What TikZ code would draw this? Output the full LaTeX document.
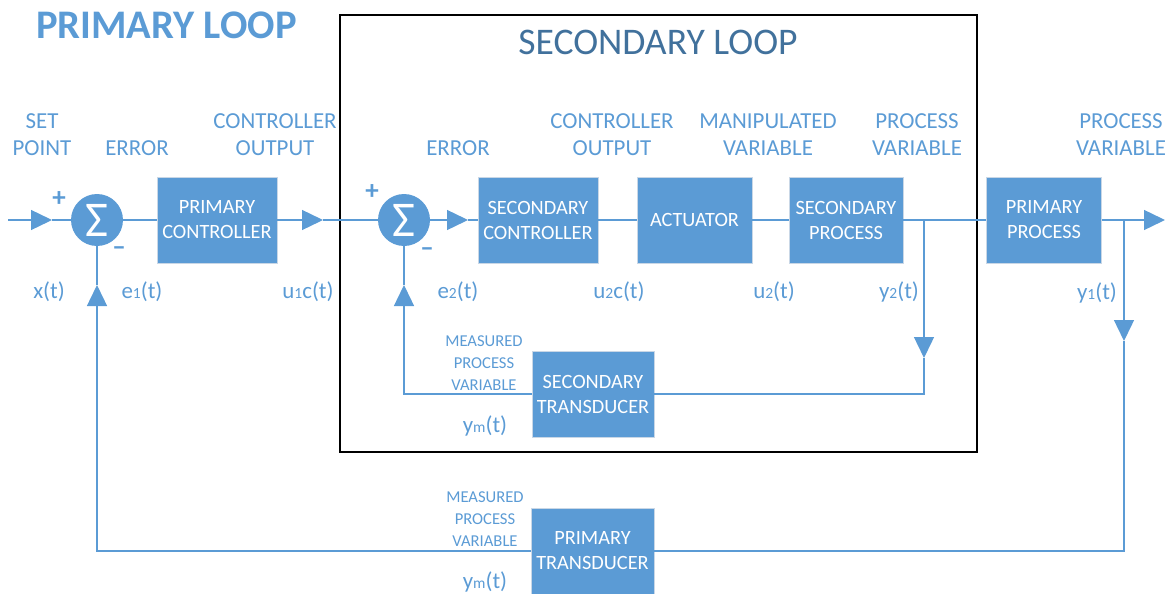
\documentclass[tikz,border=0pt]{standalone}
\usepackage{fontspec}
\setmainfont{Carlito}
\usetikzlibrary{arrows.meta}
\definecolor{loopblue}{HTML}{5B9BD5}
\definecolor{titleblue}{HTML}{41719C}
\definecolor{edgegray}{HTML}{C9D7E6}
% smaller index digits/letters, kept on the baseline
\newcommand{\lo}[1]{{\fontsize{15.5}{15.5}\selectfont #1}}

\begin{document}
\begin{tikzpicture}[x=1pt, y=-1pt,
  block/.style={fill=loopblue, draw=edgegray, line width=0.8pt, text=white, align=center,
    inner sep=0pt, minimum height=86pt, font=\fontsize{20.3}{25}\selectfont},
  sumpt/.style={circle, fill=loopblue, inner sep=0pt, minimum size=52pt, text=white,
    font=\fontsize{50}{50}\selectfont},
  sig/.style={draw=loopblue, line width=1.4pt},
  tip/.style={-{Triangle[length=21pt, width=20pt]}},
  lbl/.style={text=loopblue, align=center, inner sep=0pt, font=\fontsize{22.9}{27}\selectfont},
  sml/.style={text=loopblue, align=center, inner sep=0pt, font=\fontsize{16.6}{22}\selectfont},
  sgn/.style={text=loopblue, inner sep=0pt, font=\bfseries\fontsize{27}{27}\selectfont}]

\useasboundingbox (0,0) rectangle (1173,594);

% Secondary loop frame and titles
\draw[line width=2pt] (340,15) rectangle (977,452);
\node[text=loopblue, font=\bfseries\fontsize{40.6}{40.6}\selectfont, anchor=west, inner sep=0pt]
  (ptitle) at (36,25) {PRIMARY LOOP};
\node[text=titleblue, font=\fontsize{37.6}{37.6}\selectfont, inner sep=0pt]
  (stitle) at (658,42) {SECONDARY LOOP};

% Summing points
\node[sumpt] (sum1) at (97,220) {Σ};
\node[sumpt] (sum2) at (404,220) {Σ};
\node[sgn] (p1) at (59,199) {+};
\node[sgn] (m1) at (119,251) {–};
\node[sgn] (p2) at (372,192) {+};
\node[sgn] (m2) at (427,252) {–};

% Blocks
\node[block, minimum width=120pt] (pc) at (217,220) {PRIMARY\\CONTROLLER};
\node[block, minimum width=120pt] (sc) at (538,220) {SECONDARY\\CONTROLLER};
\node[block, minimum width=115pt] (act) at (694.5,220) {ACTUATOR};
\node[block, minimum width=114pt] (sp) at (846,220) {SECONDARY\\PROCESS};
\node[block, minimum width=115pt] (pp) at (1044,220) {PRIMARY\\PROCESS};
\node[block, minimum width=122pt] (st) at (593,394) {SECONDARY\\TRANSDUCER};
\node[block, minimum width=123pt] (pt) at (592.5,551) {PRIMARY\\TRANSDUCER};

% Forward path
\coordinate (xin) at (8,220);
\coordinate (a1) at (52,220);
\coordinate (a2) at (323,220);
\coordinate (a3) at (468,220);
\coordinate (a4) at (1165,220);
\draw[sig, tip] (xin) -- (a1);
\draw[sig] (a1) -- (sum1);
\draw[sig] (sum1) -- (pc);
\draw[sig, tip] (pc) -- (a2);
\draw[sig] (a2) -- (sum2);
\draw[sig, tip] (sum2) -- (a3);
\draw[sig] (a3) -- (sc);
\draw[sig] (sc) -- (act);
\draw[sig] (act) -- (sp);
\draw[sig] (sp) -- (pp);
\draw[sig, tip] (pp) -- (a4);

% Secondary feedback
\coordinate (b2) at (924,220);
\coordinate (a5) at (924,358);
\coordinate (a6) at (404,285);
\draw[sig, tip] (b2) -- (a5);
\draw[sig] (a5) |- (st);
\draw[sig, tip] (st) -| (a6);
\draw[sig] (a6) -- (sum2);

% Primary feedback
\coordinate (b1) at (1124,220);
\coordinate (a7) at (1124,341);
\coordinate (a8) at (97,285);
\draw[sig, tip] (b1) -- (a7);
\draw[sig] (a7) |- (pt);
\draw[sig, tip] (pt) -| (a8);
\draw[sig] (a8) -- (sum1);

% Signal names above the path
\node[lbl] (tsp) at (42,134.5) {SET\\POINT};
\node[lbl] (te1) at (137,148) {ERROR};
\node[lbl] (tco1) at (275,134.5) {CONTROLLER\\OUTPUT};
\node[lbl] (te2) at (458,148) {ERROR};
\node[lbl] (tco2) at (612,134.5) {CONTROLLER\\OUTPUT};
\node[lbl] (tmv) at (768,134.5) {MANIPULATED\\VARIABLE};
\node[lbl] (tpv2) at (917,134.5) {PROCESS\\VARIABLE};
\node[lbl] (tpv1) at (1121,134.5) {PROCESS\\VARIABLE};

% Signal symbols below the path
\node[lbl, anchor=base] (sx) at (49,298) {x(t)};
\node[lbl, anchor=base] (se1) at (142,298) {e\lo{1}(t)};
\node[lbl, anchor=base] (su1) at (308,298) {u\lo{1}c(t)};
\node[lbl, anchor=base] (se2) at (458,298) {e\lo{2}(t)};
\node[lbl, anchor=base] (su2c) at (619,298) {u\lo{2}c(t)};
\node[lbl, anchor=base] (su2) at (774,298) {u\lo{2}(t)};
\node[lbl, anchor=base] (sy2) at (899,298) {y\lo{2}(t)};
\node[lbl, anchor=base] (sy1) at (1097,299) {y\lo{1}(t)};

% Measured variables
\node[sml] (ms) at (484,363.5) {MEASURED\\PROCESS\\VARIABLE};
\node[lbl, anchor=base] (sym2) at (485,432) {y\lo{m}(t)};
\node[sml] (mp) at (485,519) {MEASURED\\PROCESS\\VARIABLE};
\node[lbl, anchor=base] (sym1) at (485,588) {y\lo{m}(t)};

\end{tikzpicture}
\end{document}
